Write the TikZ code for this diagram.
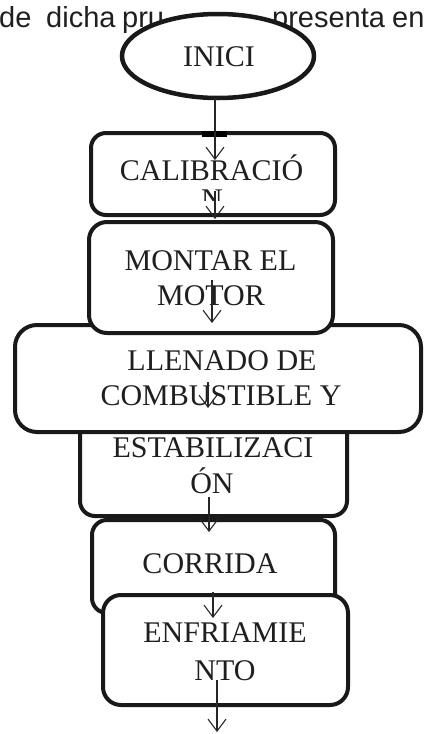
\documentclass[tikz,border=0pt]{standalone}
\usepackage{fontspec}
\setmainfont{Liberation Serif}
\newfontfamily\arialfont{Liberation Sans}
\usetikzlibrary{arrows.meta,shapes.geometric}
\begin{document}
\begin{tikzpicture}[x=1pt,y=-1pt,
  boxst/.style={draw=black!90, line width=4pt, rounded corners=15pt, fill=white, inner sep=0pt},
  lbl/.style={font=\fontsize{30}{35}\selectfont, text=black!88, inner sep=0pt, anchor=base},
  toptext/.style={font=\arialfont\fontsize{29}{32}\selectfont, text=black!88, inner sep=0pt, anchor=base west},
  conn/.style={draw=black!85, line width=1.1pt, -{Straight Barb[length=12pt,width=18pt,line width=1.1pt]}}
]
\useasboundingbox (0,0) rectangle (424,734);
% running text behind the start symbol
\node[toptext] (w1) at (-1,27.5) {de};
\node[toptext] (w2) at (46,27.5) {dicha};
\node[toptext] (w3) at (122,27.5) {pru};
\node[toptext] (w4) at (272,27.5) {presenta};
\node[toptext] (w5) at (392,27.5) {en};
% start
\node[draw=black!90, fill=white, line width=4.5pt, ellipse, minimum width=192pt, minimum height=84pt, inner sep=0pt] (inici) at (218,56) {};
\node[lbl] (tinici) at (219,66) {INICI};
% calibracion
\node[boxst, minimum width=244pt, minimum height=82pt] (calib) at (213,174) {};
\fill[black] (202,131) rectangle (227,137);
\coordinate (a1s) at (215,98);
\coordinate (a1e) at (215,160);
\draw[conn] (a1s) -- (a1e);
\node[lbl] (tcalib) at (211.5,180) {CALIBRACIÓ};
\begin{scope}
  \clip (195,189) rectangle (235,200);
  \node[lbl] (tcalibn) at (212,209) {N};
\end{scope}
\coordinate (a2s) at (215,191);
\coordinate (a2e) at (215,219);
\draw[conn] (a2s) -- (a2e);
% llenado / estabilizacion
\node[boxst, minimum width=267pt, minimum height=171pt] (estab) at (213.5,430.5) {};
\node[boxst, rounded corners=22pt, minimum width=406pt, minimum height=107pt] (llenado) at (218,378.5) {};
% montar
\node[boxst, rounded corners=18pt, minimum width=244pt, minimum height=111pt] (montar) at (211,277.5) {};
\node[lbl] (tmontar1) at (210.5,270) {MONTAR EL};
\node[lbl] (tmontar2) at (211,305) {MOTOR};
\coordinate (a3s) at (212,280);
\coordinate (a3e) at (212,323);
\draw[conn] (a3s) -- (a3e);
\node[lbl] (tllen1) at (222,370) {LLENADO DE};
\node[lbl] (tllen2) at (221,405) {COMBUSTIBLE Y};
\coordinate (a4s) at (208,382);
\coordinate (a4e) at (208,408);
\draw[conn] (a4s) -- (a4e);
\node[lbl] (test1) at (213,457) {ESTABILIZACI};
\node[lbl] (test2) at (212,493) {ÓN};
% corrida
\node[boxst, minimum width=243pt, minimum height=93pt] (corrida) at (213.5,566.5) {};
\coordinate (a5s) at (209,497);
\coordinate (a5e) at (209,532);
\draw[conn] (a5s) -- (a5e);
\node[lbl] (tcorrida) at (210,573) {CORRIDA};
% enfriamiento
\node[boxst, rounded corners=18pt, minimum width=245pt, minimum height=110pt] (enfr) at (225.5,650) {};
\coordinate (a6s) at (213,592);
\coordinate (a6e) at (213,618);
\draw[conn] (a6s) -- (a6e);
\node[lbl] (tenfr1) at (225,642) {ENFRIAMIE};
\node[lbl] (tenfr2) at (225,680) {NTO};
\coordinate (a7s) at (217,680);
\coordinate (a7e) at (217,732);
\draw[conn] (a7s) -- (a7e);
\end{tikzpicture}
\end{document}
